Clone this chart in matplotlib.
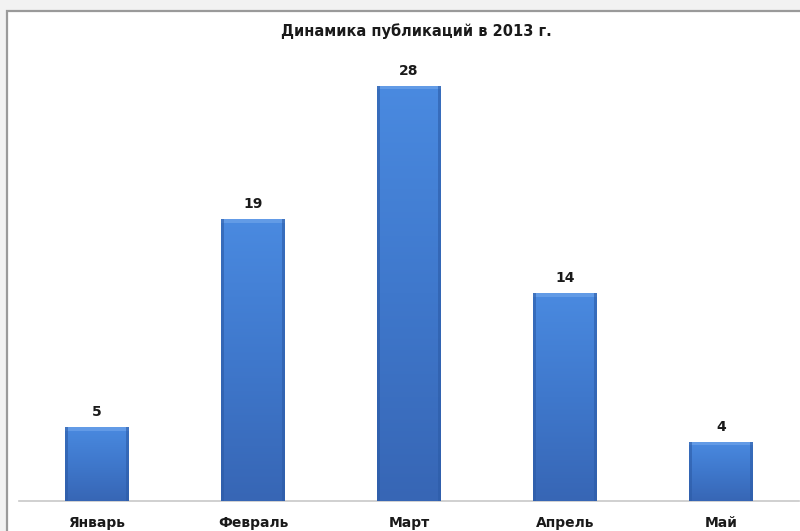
import numpy as np
import matplotlib.pyplot as plt
from matplotlib.patches import Rectangle
from matplotlib.colors import LinearSegmentedColormap

months = ['Январь', 'Февраль', 'Март', 'Апрель', 'Май']
counts = [5, 19, 28, 14, 4]
title = 'Динамика публикаций в 2013 г.'

fig = plt.figure(figsize=(8, 5.31), dpi=100)
fig.patch.set_facecolor('#f2f2f2')

# white chart area with a grey frame
frame = Rectangle((7 / 800, -0.1), 1.0, (531 - 11) / 531 + 0.1, transform=fig.transFigure,
                  facecolor='white', edgecolor='#9a9a9a', linewidth=1.6, zorder=-10)
fig.patches.append(frame)

ax = fig.add_axes([19 / 800, 30 / 531, 780 / 800, (501 - 56) / 531])
ax.set_facecolor('none')
ax.set_zorder(5)
x = np.arange(len(months))
bars = ax.bar(x, counts, width=0.405, color='#3f7bd2', zorder=2)

# vertical gradient + bevel on each bar
cmap = LinearSegmentedColormap.from_list('bar', ['#3766b5', '#3f78cc', '#4a8ae0'])
grad = np.linspace(0, 1, 256).reshape(-1, 1)
for b in bars:
    x0, w, h = b.get_x(), b.get_width(), b.get_height()
    im = ax.imshow(grad, cmap=cmap, origin='lower', aspect='auto',
                   extent=(x0, x0 + w, 0, h), zorder=3)
    im.set_clip_path(b)
    ax.add_patch(Rectangle((x0, h - 0.25), w, 0.25, facecolor='#6ea3ea', edgecolor='none',
                           alpha=0.7, zorder=4))
    ax.add_patch(Rectangle((x0, 0), w * 0.04, h, facecolor='#2c5ba6', edgecolor='none',
                           alpha=0.6, zorder=4))
    ax.add_patch(Rectangle((x0 + w * 0.96, 0), w * 0.04, h, facecolor='#2c5ba6',
                           edgecolor='none', alpha=0.6, zorder=4))
    ax.text(b.get_x() + w / 2, h + 0.55, str(int(h)), ha='center', va='bottom',
            fontsize=10, fontweight='bold', color='#1a1a1a')

ax.set_xlim(-0.5, len(months) - 0.5)
ax.set_ylim(0, 30)
ax.set_xticks(x)
ax.set_xticklabels(months, fontsize=10, fontweight='bold', color='#1a1a1a')
ax.tick_params(axis='x', length=0, pad=11)
ax.set_yticks([])
for s in ['top', 'left', 'right']:
    ax.spines[s].set_visible(False)
ax.spines['bottom'].set_color('#c8c8c8')
ax.spines['bottom'].set_linewidth(1.2)

fig.text(416 / 800, 1 - 31 / 531, title, ha='center', va='center',
         fontsize=10.5, fontweight='bold', color='#1a1a1a')

fig.savefig('out.png', dpi=100, facecolor=fig.get_facecolor())
